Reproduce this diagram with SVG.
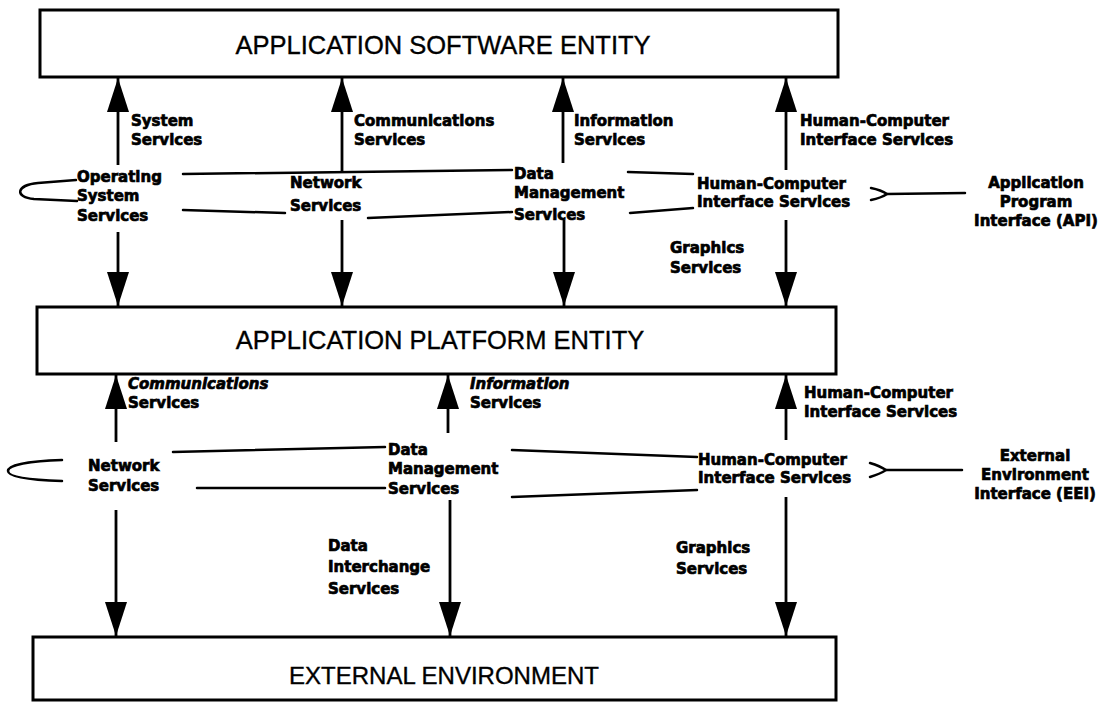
<svg xmlns="http://www.w3.org/2000/svg" width="1112" height="702" viewBox="0 0 1112 702">
  <style>
    .box { fill: #fff; stroke: #000; stroke-width: 3; }
    .title { font-family: "Liberation Sans", Arial, sans-serif; font-size: 25.5px; text-anchor: middle; fill: #000; stroke: #000; stroke-width: 0.35; }
    .small { font-size: 24px; }
    .lbl { font-family: "DejaVu Sans", "Liberation Sans", sans-serif; font-weight: bold; font-size: 15px; fill: #000; stroke: #000; stroke-width: 0.7; }
    .mid { text-anchor: middle; }
    .it { font-style: italic; }
    .wire { fill: none; stroke: #000; stroke-width: 2.5; stroke-linecap: round; }
    .flow { fill: none; stroke: #000; stroke-width: 2.8; }
  </style>
  <defs>
    <marker id="head" viewBox="0 0 34 22" refX="34" refY="11" markerWidth="34" markerHeight="22" markerUnits="userSpaceOnUse" orient="auto">
      <path d="M0,0 L34,11 L0,22 z" fill="#000"/>
    </marker>
  </defs>

  <rect width="1112" height="702" fill="#fff"/>

  <!-- layer boxes -->
  <g id="app-software">
    <rect class="box" x="40" y="10" width="798" height="67"/>
    <text class="title" x="443" y="54">APPLICATION SOFTWARE ENTITY</text>
  </g>
  <g id="app-platform">
    <rect class="box" x="37" y="307" width="799" height="67"/>
    <text class="title" x="440" y="349">APPLICATION PLATFORM ENTITY</text>
  </g>
  <g id="external-env">
    <rect class="box" x="33" y="637" width="803" height="63"/>
    <text class="title small" x="444" y="684">EXTERNAL ENVIRONMENT</text>
  </g>

  <!-- API-side service nodes -->
  <g id="os-services">
    <text class="lbl" x="77" y="182">Operating</text>
    <text class="lbl" x="77" y="201">System</text>
    <text class="lbl" x="77" y="221">Services</text>
  </g>
  <g id="net-services-top">
    <text class="lbl" x="290" y="188">Network</text>
    <text class="lbl" x="290" y="211">Services</text>
  </g>
  <g id="dm-services-top">
    <text class="lbl" x="514" y="179">Data</text>
    <text class="lbl" x="514" y="198">Management</text>
    <text class="lbl" x="514" y="220">Services</text>
  </g>
  <g id="hci-services-top">
    <text class="lbl" x="697" y="189">Human-Computer</text>
    <text class="lbl" x="697" y="207">Interface Services</text>
  </g>
  <g id="api">
    <text class="lbl mid" x="1036" y="188">Application</text>
    <text class="lbl mid" x="1036" y="207">Program</text>
    <text class="lbl mid" x="1036" y="226">Interface (API)</text>
  </g>

  <!-- EEI-side service nodes -->
  <g id="net-services-bottom">
    <text class="lbl" x="88" y="471">Network</text>
    <text class="lbl" x="88" y="491">Services</text>
  </g>
  <g id="dm-services-bottom">
    <text class="lbl" x="388" y="455">Data</text>
    <text class="lbl" x="388" y="474">Management</text>
    <text class="lbl" x="388" y="494">Services</text>
  </g>
  <g id="hci-services-bottom">
    <text class="lbl" x="698" y="465">Human-Computer</text>
    <text class="lbl" x="698" y="483">Interface Services</text>
  </g>
  <g id="eei">
    <text class="lbl mid" x="1035" y="461">External</text>
    <text class="lbl mid" x="1035" y="480">Environment</text>
    <text class="lbl mid" x="1035" y="499">Interface (EEI)</text>
  </g>

  <!-- connectors -->
  <g id="connectors">
    <!-- API band: brackets joining the service nodes -->
    <path class="wire" d="M76,180 L38,183 C16,185 14,197 34,199 L77,201"/>
    <path class="wire" d="M183,174 L512,170"/>
    <path class="wire" d="M183,210 L285,213"/>
    <path class="wire" d="M368,218 L512,212"/>
    <path class="wire" d="M628,172 L693,174"/>
    <path class="wire" d="M630,213 L693,208"/>
    <path class="wire" d="M871,188 Q881,190 887,194 Q881,198 871,200"/>
    <path class="wire" d="M887,194 L965,193"/>

    <!-- API band: services offered upward -->
    <line class="flow" x1="118" y1="165" x2="118" y2="78" marker-end="url(#head)"/>
    <line class="flow" x1="342" y1="172" x2="342" y2="78" marker-end="url(#head)"/>
    <line class="flow" x1="563" y1="163" x2="563" y2="78" marker-end="url(#head)"/>
    <line class="flow" x1="786" y1="170" x2="786" y2="78" marker-end="url(#head)"/>
    <!-- API band: calls down to the platform -->
    <line class="flow" x1="118" y1="232" x2="118" y2="306" marker-end="url(#head)"/>
    <line class="flow" x1="342" y1="220" x2="342" y2="306" marker-end="url(#head)"/>
    <line class="flow" x1="564" y1="220" x2="564" y2="306" marker-end="url(#head)"/>
    <line class="flow" x1="786" y1="220" x2="786" y2="306" marker-end="url(#head)"/>

    <!-- EEI band: brackets joining the service nodes -->
    <path class="wire" d="M62,460 C30,461 8,465 8,471 C8,477 30,480 62,481"/>
    <path class="wire" d="M173,452 L385,447"/>
    <path class="wire" d="M197,488 L385,488"/>
    <path class="wire" d="M512,450 L697,457"/>
    <path class="wire" d="M512,497 L697,490"/>
    <path class="wire" d="M870,463 Q880,466 886,470 Q880,474 870,477"/>
    <path class="wire" d="M886,470 L962,470"/>

    <!-- EEI band: services offered upward -->
    <line class="flow" x1="116" y1="442" x2="116" y2="375" marker-end="url(#head)"/>
    <line class="flow" x1="448" y1="433" x2="448" y2="375" marker-end="url(#head)"/>
    <line class="flow" x1="786" y1="440" x2="786" y2="375" marker-end="url(#head)"/>
    <!-- EEI band: down to the external environment -->
    <line class="flow" x1="116" y1="510" x2="116" y2="636" marker-end="url(#head)"/>
    <line class="flow" x1="450" y1="500" x2="450" y2="636" marker-end="url(#head)"/>
    <line class="flow" x1="786" y1="497" x2="786" y2="636" marker-end="url(#head)"/>

    <!-- arrow labels -->
    <text class="lbl" x="131" y="126">System</text>
    <text class="lbl" x="131" y="145">Services</text>
    <text class="lbl" x="354" y="126">Communications</text>
    <text class="lbl" x="354" y="145">Services</text>
    <text class="lbl" x="574" y="126">Information</text>
    <text class="lbl" x="574" y="145">Services</text>
    <text class="lbl" x="800" y="126">Human-Computer</text>
    <text class="lbl" x="800" y="145">Interface Services</text>
    <text class="lbl" x="670" y="253">Graphics</text>
    <text class="lbl" x="670" y="273">Services</text>

    <text class="lbl it" x="128" y="389">Communications</text>
    <text class="lbl" x="128" y="408">Services</text>
    <text class="lbl it" x="470" y="389">Information</text>
    <text class="lbl" x="470" y="408">Services</text>
    <text class="lbl" x="804" y="398">Human-Computer</text>
    <text class="lbl" x="804" y="417">Interface Services</text>
    <text class="lbl" x="328" y="551">Data</text>
    <text class="lbl" x="328" y="572">Interchange</text>
    <text class="lbl" x="328" y="594">Services</text>
    <text class="lbl" x="676" y="553">Graphics</text>
    <text class="lbl" x="676" y="574">Services</text>
  </g>
</svg>
